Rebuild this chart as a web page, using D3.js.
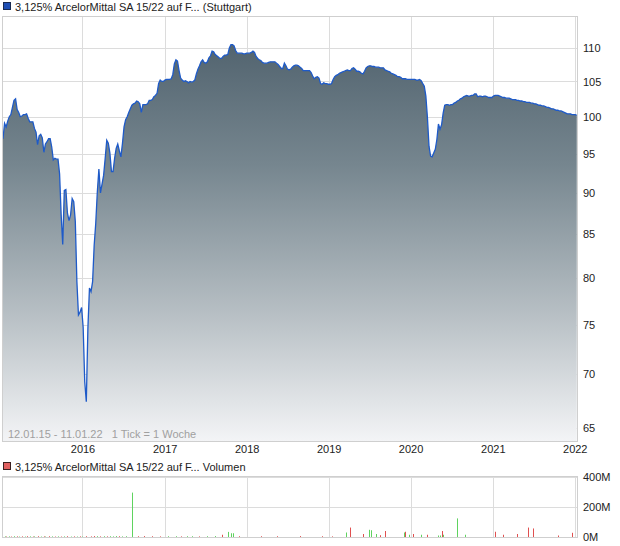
<!DOCTYPE html>
<html><head><meta charset="utf-8">
<script src="https://cdn.jsdelivr.net/npm/d3@7"></script>
<style>
body{margin:0;background:#fff}
svg{display:block}
text{font-family:"Liberation Sans",Arial,sans-serif;font-size:11px}
</style>
</head><body>
<svg id="c" width="620" height="546"></svg>
<script>
// ---- data ----
const seriesName = "3,125% ArcelorMittal SA 15/22 auf F... (Stuttgart)";
const volumeName = "3,125% ArcelorMittal SA 15/22 auf F... Volumen";
const rangeNote = "12.01.15 - 11.01.22   1 Tick = 1 Woche";
const firstWeek = "2015-01-12";
const lastDay = "2022-01-11";
// weekly closing prices starting at firstWeek
const prices = [
97.0, 99.1, 98.6, 99.4, 100.0, 100.3, 101.3, 102.3, 102.5, 101.0,
100.6, 100.0, 100.1, 100.3, 100.3, 100.4, 99.8, 99.3, 99.3, 99.3,
98.4, 97.9, 96.2, 97.4, 97.6, 97.1, 95.2, 96.3, 96.6, 97.0,
97.0, 95.9, 94.2, 94.4, 94.3, 94.3, 92.4, 87.3, 83.8, 90.3,
90.4, 87.5, 86.6, 87.3, 89.3, 88.9, 86.5, 79.6, 76.0, 76.3,
76.8, 74.7, 69.3, 67.4, 74.6, 78.9, 78.5, 79.6, 83.7, 86.3,
90.1, 93.0, 90.0, 91.1, 92.2, 94.4, 96.8, 96.4, 95.1, 92.7,
92.7, 94.4, 95.7, 96.3, 95.4, 94.6, 96.4, 98.6, 99.6, 100.0,
100.6, 101.1, 101.6, 101.8, 101.9, 102.2, 102.1, 101.8, 100.6, 101.7,
101.7, 101.7, 101.8, 102.3, 102.3, 102.4, 102.8, 103.0, 103.3, 104.7,
105.2, 105.0, 105.0, 105.2, 105.3, 105.3, 105.3, 105.4, 106.0, 107.6,
108.2, 108.0, 106.6, 105.5, 105.2, 105.0, 105.1, 105.0, 104.8, 105.0,
104.9, 105.0, 105.2, 106.1, 106.8, 107.3, 107.9, 108.2, 107.8, 107.7,
107.9, 108.5, 108.8, 109.5, 109.4, 109.0, 108.8, 108.6, 108.4, 108.4,
108.7, 108.9, 108.9, 109.0, 110.0, 110.5, 110.5, 110.3, 109.6, 109.2,
109.2, 109.2, 109.2, 109.1, 109.1, 109.2, 109.2, 109.2, 109.3, 109.5,
109.3, 108.7, 108.4, 108.2, 108.1, 107.8, 107.7, 107.7, 107.7, 107.8,
107.9, 107.9, 107.9, 107.9, 107.7, 107.5, 107.2, 106.9, 106.9, 107.7,
107.3, 106.8, 106.7, 106.8, 107.1, 107.3, 107.4, 107.4, 107.3, 107.1,
106.9, 106.6, 106.6, 106.6, 106.6, 106.6, 106.3, 105.8, 105.4, 105.6,
105.7, 105.5, 104.7, 104.6, 104.8, 104.7, 104.7, 104.6, 104.6, 104.7,
105.3, 105.7, 105.9, 106.0, 106.2, 106.3, 106.4, 106.5, 106.6, 106.7,
106.6, 106.6, 106.9, 107.0, 106.8, 106.5, 106.5, 106.4, 106.2, 106.1,
106.5, 107.0, 107.2, 107.3, 107.3, 107.2, 107.2, 107.1, 107.1, 107.1,
107.0, 107.0, 107.0, 106.7, 106.6, 106.5, 106.4, 106.2, 106.1, 106.0,
105.9, 105.7, 105.7, 105.6, 105.4, 105.4, 105.4, 105.3, 105.3, 105.3,
105.3, 105.3, 105.3, 105.2, 105.2, 105.3, 105.1, 104.7, 104.3, 102.9,
99.9, 96.0, 94.7, 94.6, 95.1, 95.6, 96.9, 99.0, 98.3, 98.9,
100.5, 101.6, 101.7, 101.7, 101.6, 101.7, 101.7, 101.9, 102.0, 102.2,
102.3, 102.5, 102.6, 102.8, 102.9, 103.0, 102.9, 102.9, 103.0, 103.0,
103.2, 103.2, 102.8, 102.9, 102.9, 102.8, 102.9, 102.9, 102.8, 102.7,
102.7, 102.7, 102.9, 103.0, 103.0, 103.0, 102.9, 102.8, 102.7, 102.7,
102.6, 102.6, 102.6, 102.5, 102.4, 102.4, 102.4, 102.3, 102.3, 102.2,
102.2, 102.1, 102.1, 102.0, 102.0, 102.0, 101.9, 101.9, 101.8, 101.8,
101.7, 101.6, 101.6, 101.5, 101.5, 101.4, 101.3, 101.3, 101.2, 101.1,
101.1, 101.0, 100.9, 100.9, 100.8, 100.8, 100.7, 100.6, 100.5, 100.4,
100.4, 100.4, 100.3, 100.3, 100.3, 100.2
];
const priceTicks = [65, 70, 75, 80, 85, 90, 95, 100, 105, 110];
const yearTicks = [2016, 2017, 2018, 2019, 2020, 2021, 2022];
// volume (millions) by week index from firstWeek, up = green / down = red
const volWeek = [1,2,4,5,7,9,10,12,14,15,17,19,20,22,24,26,27,29,31,33,35,37,39,41,43,45,47,49,50,
  53,56,58,60,62,64,66,68,70,72,74,76,78,82,86,90,95,100,105,110,113,117,120,125,130,135,
  139,143,145,146,150,164,174,189,203,209,218,221,229,233,234,237,240,243,255,256,258,261,
  266,270,277,278,279,280,289,294,313,318,327,334,337,353,362];
const volValue = [4,3,4,3,5,4,3,4,3,5,4,3,4,5,3,4,3,5,4,3,4,3,4,5,3,4,3,4,3,
  5,4,6,5,4,5,4,5,4,6,5,4,5,296,5,6,5,4,5,5,4,5,5,4,5,6,
  15,34,25,25,5,5,5,6,5,4,30,63,20,48,45,20,12,40,30,35,
  15,20,15,15,10,10,40,15,124,15,35,15,20,63,57,10,28];
const volUp = [1,0,1,0,1,0,1,0,1,0,1,0,1,0,1,0,1,0,1,0,1,0,1,0,1,0,1,0,1,
  0,0,0,1,0,1,0,1,1,1,0,1,1,1,0,0,0,0,1,1,0,1,1,0,1,1,
  0,1,1,1,0,0,0,0,0,0,1,0,0,1,1,1,0,0,1,0,
  1,0,1,0,1,1,0,1,1,1,0,0,0,0,0,0,0];
const volTicks = [0, 200, 400];

// ---- layout ----
const svg = d3.select("#c");
const L = 3, R = 577, T = 17, B = 441;
const VT = 477, VB = 537;
const t0 = new Date(firstWeek + "T00:00:00");
const dates = prices.map((_, i) => d3.timeDay.offset(t0, i * 7));
const x = d3.scaleTime().domain([t0, new Date(lastDay + "T00:00:00")]).range([L, R]);
const y = d3.scaleLog().domain([63.84, 114.8]).range([B, T]);
const yv = d3.scaleLinear().domain([0, 400]).range([VB, VT]);
const yearDates = yearTicks.map(yr => new Date(yr, 0, 1));

// legend top
svg.append("rect").attr("x", 3.5).attr("y", 2.5).attr("width", 7).attr("height", 7)
  .attr("fill", "#1f4fb4").attr("stroke", "#1a2a50");
svg.append("text").attr("x", 15).attr("y", 11).attr("fill", "#222").text(seriesName);

// gradient
const defs = svg.append("defs");
const g = defs.append("linearGradient").attr("id", "ag").attr("gradientUnits", "userSpaceOnUse")
  .attr("x1", 0).attr("x2", 0).attr("y1", T).attr("y2", B);
g.append("stop").attr("offset", 0).attr("stop-color", "#4a5c68");
g.append("stop").attr("offset", 0.35).attr("stop-color", "#76868f");
g.append("stop").attr("offset", 0.7).attr("stop-color", "#b7bfc4");
g.append("stop").attr("offset", 1).attr("stop-color", "#f3f4f6");

// grid main
const grid = svg.append("g").attr("stroke", "#dcdcdc").attr("stroke-width", 1);
grid.selectAll("line.h").data(priceTicks).join("line")
  .attr("x1", L).attr("x2", R).attr("y1", d => Math.round(y(d)) + 0.5).attr("y2", d => Math.round(y(d)) + 0.5);
grid.selectAll("line.v").data(yearDates).join("line")
  .attr("x1", d => Math.round(x(d)) + 0.5).attr("x2", d => Math.round(x(d)) + 0.5).attr("y1", T).attr("y2", B);

// area + line
const pts = prices.map((v, i) => [dates[i], v]);
svg.append("path").datum(pts)
  .attr("fill", "url(#ag)")
  .attr("d", d3.area().x(d => x(d[0])).y0(B).y1(d => y(d[1])));
svg.append("path").datum(pts)
  .attr("fill", "none").attr("stroke", "#1e5ac8").attr("stroke-width", 1.3)
  .attr("d", d3.line().x(d => x(d[0])).y(d => y(d[1])));

// frame
svg.append("rect").attr("x", L - 0.5).attr("y", T - 0.5).attr("width", R - L + 1).attr("height", B - T + 1)
  .attr("fill", "none").attr("stroke", "#cfcfcf");

// axes
const ya = svg.append("g").attr("transform", `translate(${R + 1},0)`)
  .call(d3.axisRight(y).tickValues(priceTicks).tickFormat(d3.format("d")).tickSize(0).tickPadding(5));
ya.select(".domain").remove();
ya.selectAll("text").attr("fill", "#222").style("font-size", "11px");

const xa = svg.append("g").attr("transform", `translate(0,${B})`)
  .call(d3.axisBottom(x).tickValues(yearDates).tickFormat(d3.timeFormat("%Y")).tickSize(0).tickPadding(4));
xa.select(".domain").remove();
xa.selectAll("text").attr("fill", "#222").style("font-size", "11px");

svg.append("text").attr("x", 8).attr("y", 438).attr("fill", "#a0a0a0").attr("xml:space", "preserve")
  .style("white-space", "pre").text(rangeNote);

// volume legend
svg.append("rect").attr("x", 3.5).attr("y", 462.5).attr("width", 7).attr("height", 7)
  .attr("fill", "#e06060").attr("stroke", "#3a2020");
svg.append("text").attr("x", 15).attr("y", 471).attr("fill", "#222").text(volumeName);

// volume grid
const vg = svg.append("g").attr("stroke", "#dcdcdc");
vg.selectAll("line.h").data(volTicks).join("line")
  .attr("x1", L).attr("x2", R).attr("y1", d => Math.round(yv(d)) + 0.5).attr("y2", d => Math.round(yv(d)) + 0.5);
vg.selectAll("line.v").data(yearDates).join("line")
  .attr("x1", d => Math.round(x(d)) + 0.5).attr("x2", d => Math.round(x(d)) + 0.5).attr("y1", VT).attr("y2", VB);
svg.append("rect").attr("x", L - 0.5).attr("y", VT - 0.5).attr("width", R - L + 1).attr("height", VB - VT + 1)
  .attr("fill", "none").attr("stroke", "#cfcfcf");

// volume bars
svg.append("g").selectAll("rect").data(volWeek).join("rect")
  .attr("x", w => Math.round(x(d3.timeDay.offset(t0, w * 7))))
  .attr("width", 1)
  .attr("y", (w, i) => yv(volValue[i]))
  .attr("height", (w, i) => VB - yv(volValue[i]))
  .attr("fill", (w, i) => volUp[i] ? "#5fd35f" : "#e05050");

const va = svg.append("g").attr("transform", `translate(${R + 1},0)`)
  .call(d3.axisRight(yv).tickValues(volTicks).tickFormat(d => d + "M").tickSize(0).tickPadding(5));
va.select(".domain").remove();
va.selectAll("text").attr("fill", "#222").style("font-size", "11px");
</script>
</body></html>
